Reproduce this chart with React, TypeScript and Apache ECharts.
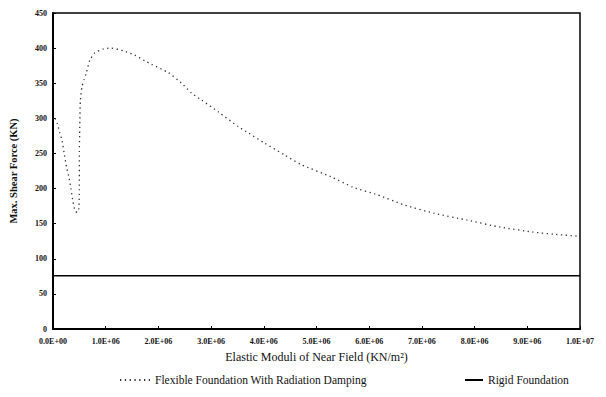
import React, { useEffect, useRef } from "react";
import * as echarts from "echarts";

const flexX = [0.04e6, 0.08e6, 0.13e6, 0.17e6, 0.21e6, 0.26e6, 0.3e6, 0.34e6, 0.38e6, 0.42e6, 0.46e6, 0.49e6, 0.5e6, 0.5e6, 0.505e6, 0.51e6, 0.52e6, 0.55e6, 0.59e6, 0.63e6, 0.7e6, 0.79e6, 0.96e6, 1.1e6, 1.34e6, 1.55e6, 1.74e6, 1.87e6, 2.19e6, 2.44e6, 2.63e6, 2.82e6, 3.14e6, 3.52e6, 3.71e6, 4.01e6, 4.39e6, 4.71e6, 5.27e6, 5.69e6, 6.16e6, 6.65e6, 7.22e6, 7.86e6, 8.49e6, 9.11e6, 9.5e6, 1.0e7];
const flexY = [300, 293, 279, 269, 251, 229, 217, 200, 181, 168, 166, 172, 198, 252, 276, 298, 326, 345, 355, 364, 383, 393, 399, 400, 396, 390, 382, 377, 365, 350, 336, 326, 309, 288, 279, 265, 248, 234, 217, 202, 191, 177, 165, 155, 145, 138, 135, 132];
const rigidX = [0, 1.0e7];
const rigidY = [76, 76];
const yTicks = { min: 0, max: 450, interval: 50 };
const xTicks = { min: 0, max: 1.0e7, interval: 1.0e6 };

function fmtE(v: number): string {
  if (v === 0) return "0.0E+00";
  const e = Math.floor(Math.log10(v));
  const m = v / Math.pow(10, e);
  return m.toFixed(1) + "E+" + String(e).padStart(2, "0");
}

export default function App() {
  const ref = useRef<HTMLDivElement>(null);
  useEffect(() => {
    if (!ref.current) return;
    const chart = echarts.init(ref.current, undefined, { renderer: "svg" });
    const serif = "'Liberation Serif', 'DejaVu Serif', serif";
    const legendCommon = {
      top: 374,
      padding: 0,
      itemHeight: 10,
      itemGap: 4,
      itemStyle: { opacity: 0 },
      textStyle: { fontFamily: serif, fontSize: 11.5, color: "#111" },
    };
    chart.setOption({
      animation: false,
      backgroundColor: "#ffffff",
      textStyle: { fontFamily: serif },
      grid: {
        left: 51,
        right: 26,
        top: 13,
        bottom: 68,
        show: true,
        borderColor: "#000",
        borderWidth: 1.5,
      },
      legend: [
        {
          ...legendCommon,
          left: 119,
          itemWidth: 30,
          data: ["Flexible Foundation With Radiation Damping"],
        },
        {
          ...legendCommon,
          left: 464,
          itemWidth: 18,
          data: ["Rigid Foundation"],
        },
      ],
      xAxis: {
        type: "value",
        min: xTicks.min,
        max: xTicks.max,
        interval: xTicks.interval,
        name: "Elastic Moduli of Near Field (KN/m²)",
        nameLocation: "middle",
        nameGap: 22,
        nameTextStyle: { fontFamily: serif, fontSize: 12, color: "#111" },
        axisLine: { lineStyle: { color: "#000", width: 2 } },
        axisTick: { show: true, inside: true, length: 3, lineStyle: { color: "#000" } },
        axisLabel: {
          formatter: (v: number) => fmtE(v),
          fontFamily: serif,
          fontSize: 8,
          fontWeight: "bold",
          color: "#111",
          margin: 8,
        },
        splitLine: { show: false },
      },
      yAxis: {
        type: "value",
        min: yTicks.min,
        max: yTicks.max,
        interval: yTicks.interval,
        name: "Max. Shear Force (KN)",
        nameLocation: "middle",
        nameGap: 34,
        nameTextStyle: { fontFamily: serif, fontSize: 10.5, fontWeight: "bold", color: "#111" },
        axisLine: { show: true, lineStyle: { color: "#000", width: 2 } },
        axisTick: { show: true, inside: true, length: 3, lineStyle: { color: "#000" } },
        axisLabel: {
          fontFamily: serif,
          fontSize: 8,
          fontWeight: "bold",
          color: "#111",
          margin: 6,
        },
        splitLine: { show: false },
      },
      series: [
        {
          name: "Flexible Foundation With Radiation Damping",
          type: "line",
          data: flexX.map((x, i) => [x, flexY[i]]),
          showSymbol: false,
          symbol: "none",
          smooth: 0.2,
          lineStyle: { color: "#333", width: 1.3, type: [1.3, 3.5] },
          itemStyle: { color: "#333" },
        },
        {
          name: "Rigid Foundation",
          type: "line",
          data: rigidX.map((x, i) => [x, rigidY[i]]),
          showSymbol: false,
          symbol: "none",
          lineStyle: { color: "#000", width: 1.5 },
          itemStyle: { color: "#000" },
        },
      ],
    });
    return () => chart.dispose();
  }, []);
  return <div ref={ref} style={{ width: 606, height: 397, position: "absolute", left: 0, top: 0 }} />;
}
